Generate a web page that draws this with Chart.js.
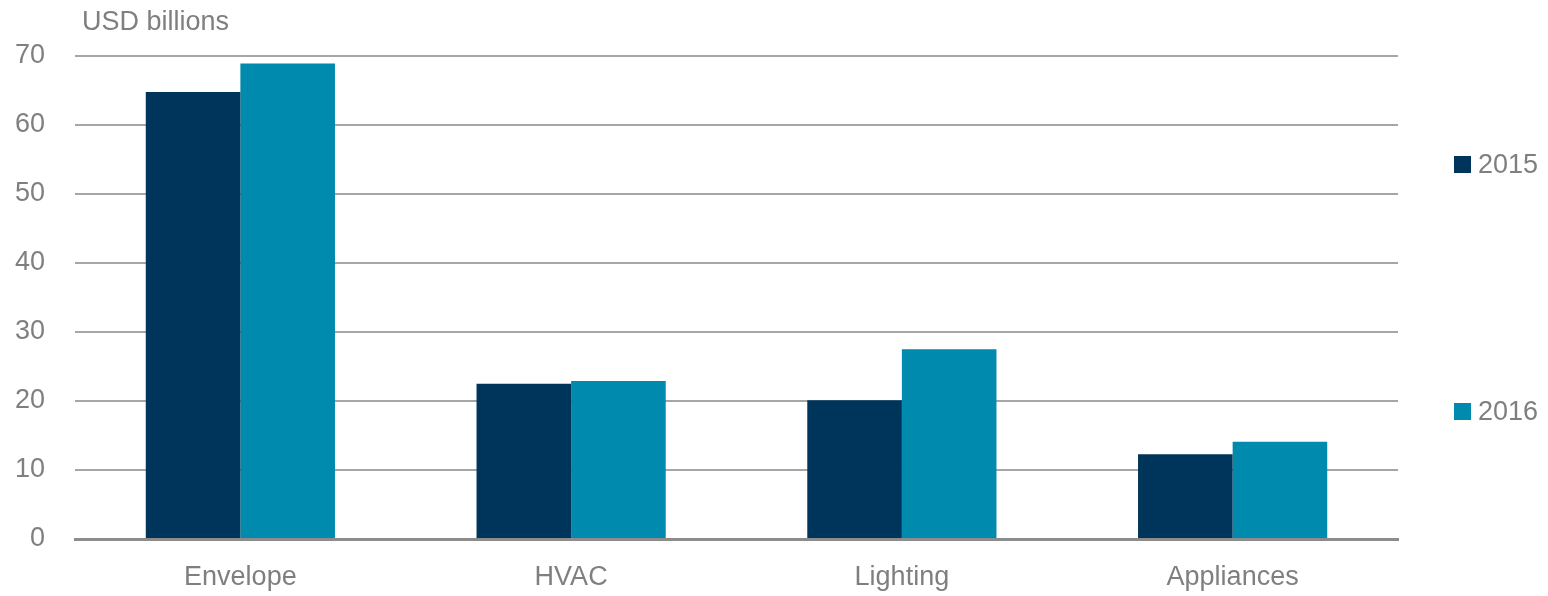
<!DOCTYPE html>
<html>
<head>
<meta charset="utf-8">
<script src="https://cdn.jsdelivr.net/npm/chart.js@4"></script>
<style>
  html, body { margin: 0; padding: 0; background: #fff; }
  #wrap { position: relative; width: 1548px; height: 596px; }
  .lbl { position: absolute; font-family: "Liberation Sans Narrow", "Liberation Sans", Arial, sans-serif; color: #7f7f7f; font-size: 27px; line-height: 1; white-space: nowrap; }
  .sw { position: absolute; width: 17px; height: 17px; }
</style>
</head>
<body>
<div id="wrap">
  <canvas id="chart1" width="1548" height="596"></canvas>
  <div class="lbl" style="left:82px; top:8px;">USD billions</div>
  <div class="sw" id="sw0" style="left:1454px; top:156px;"></div>
  <div class="lbl" id="lg0" style="left:1478px; top:151px;"></div>
  <div class="sw" id="sw1" style="left:1454px; top:403px;"></div>
  <div class="lbl" id="lg1" style="left:1478px; top:398px;"></div>
</div>
<script>
const categories = ['Envelope', 'HVAC', 'Lighting', 'Appliances'];
const seriesNames = ['2015', '2016'];
const values2015 = [64.8, 22.5, 20.1, 12.3];
const values2016 = [68.9, 22.9, 27.5, 14.1];
const colors = ['#00355b', '#008aae'];

const font = { family: '"Liberation Sans Narrow", "Liberation Sans", Arial, sans-serif', size: 27 };

seriesNames.forEach((n, i) => {
    document.querySelector('#lg' + i).textContent = n;
    document.querySelector('#sw' + i).style.background = colors[i];
});

const chart = new Chart(document.querySelector('#chart1'), {
    type: 'bar',
    data: {
        labels: categories,
        datasets: [
            { label: seriesNames[0], data: values2015, backgroundColor: colors[0], borderWidth: 0 },
            { label: seriesNames[1], data: values2016, backgroundColor: colors[1], borderWidth: 0 }
        ]
    },
    options: {
        responsive: false,
        animation: false,
        layout: { padding: { left: 0, right: 150, top: 56, bottom: 0 } },
        datasets: { bar: { categoryPercentage: 0.572, barPercentage: 1 } },
        plugins: {
            legend: { display: false },
            tooltip: { enabled: false }
        },
        scales: {
            x: {
                grid: { display: false },
                border: { color: '#8c8c8c', width: 3 },
                ticks: { color: '#7f7f7f', font: font, padding: 14 },
                afterFit: (s) => { s.height = 57; }
            },
            y: {
                min: 0,
                max: 70,
                grid: { color: '#a6a6a6', lineWidth: 2, drawTicks: false },
                border: { display: false },
                ticks: { stepSize: 10, color: '#7f7f7f', font: font, padding: 30 },
                afterFit: (s) => { s.width = 75; }
            }
        }
    }
});
</script>
</body>
</html>
